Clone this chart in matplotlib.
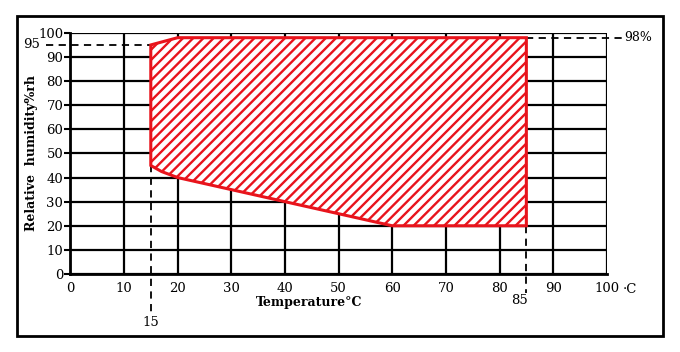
import numpy as np
import matplotlib.pyplot as plt
from matplotlib.patches import Polygon, Rectangle

plt.rcParams['font.family'] = ['DejaVu Serif']

# area boundary (temperature C, humidity %rh)
temp = [15, 15, 20, 85, 85, 60, 40, 20, 17]
rh = [45, 95, 98, 98, 20, 20, 30, 40, 42.5]

xticks = list(range(0, 101, 10))
yticks = list(range(0, 101, 10))
red = '#e8141c'

fig = plt.figure(figsize=(6.8, 3.52), dpi=100)
ax = fig.add_axes([0.1034, 0.2216, 0.789, 0.685])
ax.set_xlim(0, 100)
ax.set_ylim(0, 100)

for t in xticks:
    ax.axvline(t, color='black', lw=1.6, zorder=1)
for h in yticks:
    ax.axhline(h, color='black', lw=1.6, zorder=1)

pts = list(zip(temp, rh))
area = Polygon(pts, closed=True, facecolor='white', edgecolor='none', zorder=3)
ax.add_patch(area)

# hatch lines at 45 degrees on screen, clipped to the area
slope = 5.37 / 2.41
for c in np.arange(-40, 90, 1.9):
    ln, = ax.plot([c, c + 50], [0, 50 * slope], color=red, lw=1.7, zorder=3.5)
    ln.set_clip_path(area)

ax.add_patch(Polygon(pts, closed=True, fill=False, edgecolor=red, lw=2.2, zorder=4))

ax.set_xticks(xticks)
ax.set_yticks(yticks)
ax.set_xticklabels([str(t) for t in xticks], fontsize=9.5)
ax.set_yticklabels([str(h) for h in yticks], fontsize=9.5)
ax.tick_params(axis='x', length=0, pad=6)
ax.tick_params(axis='y', length=4, width=1.5, pad=1)
for s in ['top', 'right']:
    ax.spines[s].set_visible(False)
ax.spines['left'].set_linewidth(2)
ax.spines['bottom'].set_linewidth(2)

# dashed guide lines
ax.plot([-4.5, 15], [95, 95], ls=(0, (4, 3)), color='black', lw=1.3, clip_on=False, zorder=2)
ax.plot([85, 103], [98, 98], ls=(0, (4, 3)), color='black', lw=1.3, clip_on=False, zorder=2)
ax.plot([15, 15], [45, -16], ls=(0, (4, 3)), color='black', lw=1.3, clip_on=False, zorder=2)
ax.plot([85, 85], [20, -8], ls=(0, (4, 3)), color='black', lw=1.3, clip_on=False, zorder=2)

ax.text(-7.2, 95, '95', ha='center', va='center', fontsize=9.5)
ax.text(103.3, 98, '98%', ha='left', va='center', fontsize=9)
ax.text(15, -20, '15', ha='center', va='center', fontsize=9.5)
ax.text(83.8, -11, '85', ha='center', va='center', fontsize=9.5)
ax.text(103, -6.6, '·C', ha='left', va='center', fontsize=9.5)

ax.text(44.5, -12, 'Temperature°C', ha='center', va='center', fontsize=9, fontweight='bold')
ax.text(-7.2, 50, 'Relative  humidity%rh', ha='center', va='center', rotation=90,
        fontsize=9, fontweight='bold')

# outer frame
fig.patches.append(Rectangle((0.025, 0.045), 0.95, 0.91, transform=fig.transFigure,
                             fill=False, edgecolor='black', lw=2))

fig.savefig('out.png', dpi=100)
